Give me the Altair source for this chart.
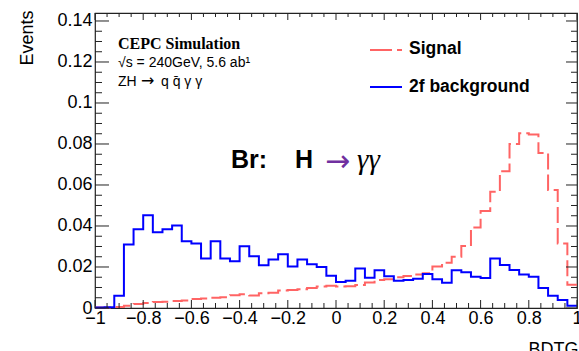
import altair as alt
import pandas as pd
import numpy as np

# ---------------- data ----------------
bin_low = -1.0
bin_width = 0.04

signal = [0.0003, 0.0003, 0.0005, 0.0011, 0.0020, 0.0024, 0.0029, 0.0031, 0.0034, 0.0036,
          0.0044, 0.0046, 0.0050, 0.0052, 0.0062, 0.0067, 0.0061, 0.0072, 0.0075, 0.0085,
          0.0088, 0.0091, 0.0097, 0.0105, 0.0108, 0.0105, 0.0106, 0.0112, 0.0124, 0.0136,
          0.0140, 0.0150, 0.0156, 0.0164, 0.0170, 0.0202, 0.0221, 0.0250, 0.0302, 0.0393,
          0.0473, 0.0567, 0.0667, 0.0800, 0.0852, 0.0846, 0.0756, 0.0576, 0.0315, 0.0113]

background = [0.0002, 0.0004, 0.0060, 0.0310, 0.0384, 0.0452, 0.0369, 0.0384, 0.0403, 0.0325,
              0.0315, 0.0242, 0.0325, 0.0242, 0.0228, 0.0301, 0.0252, 0.0208, 0.0237, 0.0262,
              0.0203, 0.0237, 0.0214, 0.0200, 0.0157, 0.0127, 0.0133, 0.0193, 0.0147, 0.0184,
              0.0155, 0.0133, 0.0137, 0.0143, 0.0166, 0.0140, 0.0123, 0.0184, 0.0174, 0.0152,
              0.0146, 0.0242, 0.0210, 0.0185, 0.0164, 0.0153, 0.0098, 0.0060, 0.0039, 0.0011]

x_major = [-1, -0.8, -0.6, -0.4, -0.2, 0, 0.2, 0.4, 0.6, 0.8, 1]
y_major = [0, 0.02, 0.04, 0.06, 0.08, 0.10, 0.12, 0.14]

# ---------------- helpers ----------------
W, H = 482, 295
RED = "#FF6464"
BLUE = "#0000FF"
TICK = "#222222"
FONT = "Liberation Sans"

def step_frame(vals):
    edges = [bin_low + bin_width * i for i in range(len(vals) + 1)]
    return pd.DataFrame({"x": edges, "y": list(vals) + [vals[-1]]})

x_minor = [round(v, 3) for v in np.arange(-1, 1.0001, 0.05) if all(abs(v - m) > 1e-6 for m in x_major)]
y_minor = [round(v, 4) for v in np.arange(0, 0.1436, 0.005) if all(abs(v - m) > 1e-6 for m in y_major)]

xs = alt.Scale(domain=[-1, 1], nice=False, zero=False)
ys = alt.Scale(domain=[0, 0.1439], nice=False)

x_axis = alt.Axis(
    values=x_major, format=".1~f", labelFlush=False, labelOverlap=False, labelBound=False,
    labelPadding=1, title="BDTG", titleAnchor="end", titleAlign="right",
    titleX=W + 1, titleY=32, titleBaseline="top")
y_axis = alt.Axis(
    values=y_major, format=".2~f", labelOverlap=False, labelPadding=3, labelFlush=False,
    title="Events", titleAngle=270, titleAlign="right", titleAnchor="end",
    titleX=-63, titleY=-3, titleBaseline="alphabetic")

sig = alt.Chart(step_frame(signal)).mark_line(
    interpolate="step-after", color=RED, strokeWidth=2, strokeDash=[16, 5]
).encode(
    x=alt.X("x:Q", scale=xs, axis=x_axis),
    y=alt.Y("y:Q", scale=ys, axis=y_axis),
)

bkg = alt.Chart(step_frame(background)).mark_line(
    interpolate="step-after", color=BLUE, strokeWidth=2
).encode(
    x=alt.X("x:Q", scale=xs, axis=x_axis),
    y=alt.Y("y:Q", scale=ys, axis=y_axis),
)

def yticks(vals, x0, x1):
    return alt.Chart(pd.DataFrame({"v": vals})).mark_rule(color=TICK, strokeWidth=1).encode(
        y=alt.Y("v:Q", scale=ys, axis=y_axis), x=alt.value(x0), x2=alt.value(x1))

def xticks(vals, y0, y1):
    return alt.Chart(pd.DataFrame({"v": vals})).mark_rule(color=TICK, strokeWidth=1).encode(
        x=alt.X("v:Q", scale=xs, axis=x_axis), y=alt.value(y0), y2=alt.value(y1))

ticks = [
    yticks(y_major, 0, 14), yticks(y_minor, 0, 7),
    yticks(y_major, W, W - 11), yticks(y_minor, W, W - 6),
    xticks(x_major, H, H - 8), xticks(x_minor, H, H - 5),
    xticks(x_major, 0, 7), xticks(x_minor, 0, 4),
]

one = pd.DataFrame({"d": [0]})

def txt(text, x, y, size, color="black", font=FONT, weight="normal", style="normal",
        baseline="middle", align="left"):
    return alt.Chart(one).mark_text(
        text=text, font=font, fontSize=size, fontWeight=weight, fontStyle=style,
        color=color, baseline=baseline, align=align
    ).encode(x=alt.value(x), y=alt.value(y))

annot = [
    txt("CEPC Simulation", 23, 31, 16, font="Liberation Serif", weight="bold"),
    txt("√s = 240GeV, 5.6 ab¹", 23, 50, 14),
    txt("ZH", 23, 69, 14),
    txt("→", 46, 68, 16, font="DejaVu Sans"),
    txt("q q\u0304 γ γ", 66, 69, 14),
    txt("Signal", 314, 36, 17.5, weight="bold"),
    txt("2f background", 314, 74, 17.5, weight="bold"),
    txt("Br:", 136, 155, 25, weight="bold", baseline="alphabetic"),
    txt("H", 200, 155, 25, weight="bold", baseline="alphabetic"),
    txt("→", 230, 158, 30, color="#7030A0", font="DejaVu Sans", baseline="alphabetic"),
    txt("γγ", 262, 156, 29, font="Liberation Serif", style="italic", baseline="alphabetic"),
]

leg_red = alt.Chart(one).mark_rule(color=RED, strokeWidth=2, strokeDash=[22, 5]).encode(
    x=alt.value(275), x2=alt.value(307), y=alt.value(37))
leg_blue = alt.Chart(one).mark_rule(color=BLUE, strokeWidth=2).encode(
    x=alt.value(275), x2=alt.value(307), y=alt.value(74))

chart = alt.layer(sig, bkg, *ticks, leg_red, leg_blue, *annot).properties(
    width=W, height=H,
    padding={"left": 95, "top": 13, "right": 2, "bottom": 43},
    autosize=alt.AutoSizeParams(type="none"),
    background="white",
).configure_view(
    stroke=TICK, strokeWidth=1.2
).configure_axis(
    ticks=False, domain=False, grid=False,
    labelFont=FONT, labelFontSize=18, labelColor="black",
    titleFont=FONT, titleFontSize=18, titleFontWeight="normal", titleColor="black",
)

chart.save("out.html", embed_options={"renderer": "svg", "actions": False})
